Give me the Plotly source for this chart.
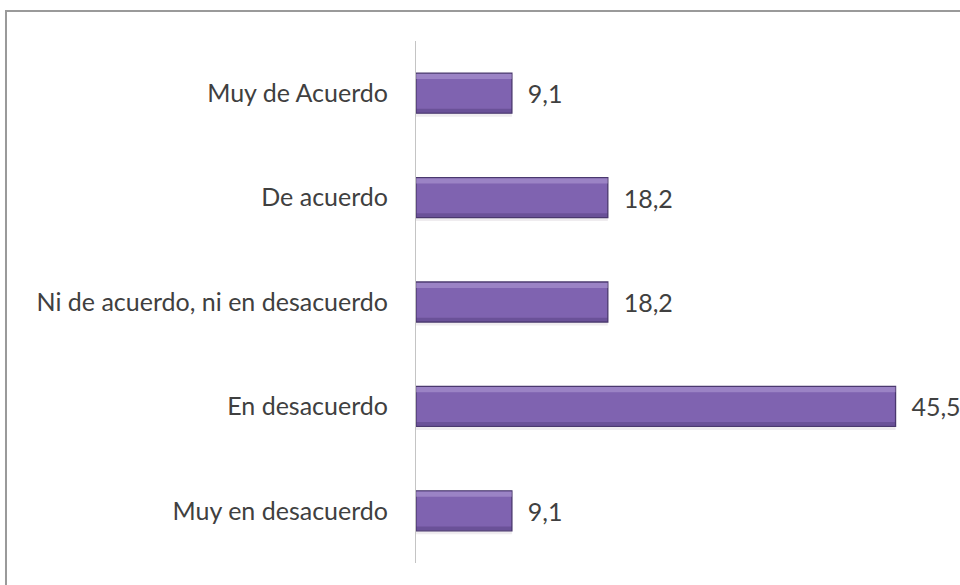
import plotly.graph_objects as go

categories = [
    "Muy de Acuerdo",
    "De acuerdo",
    "Ni de acuerdo, ni en desacuerdo",
    "En desacuerdo",
    "Muy en desacuerdo",
]
values = [9.1, 18.2, 18.2, 45.5, 9.1]

labels = ["\u00a0\u00a0" + f"{v:.1f}".replace(".", ",") for v in values]
font_family = "Lato, Liberation Sans, Arial"

fig = go.Figure()
# faint shadow under each bar
fig.add_trace(
    go.Bar(x=values, y=categories, orientation="h", width=0.4, offset=-0.175,
           marker={"color": "rgba(150,130,150,0.15)", "line": {"width": 0}},
           hoverinfo="skip")
)
# main bar
fig.add_trace(
    go.Bar(
        x=values,
        y=categories,
        orientation="h",
        width=0.383,
        offset=-0.1915,
        marker={"color": "#7f63b0", "line": {"color": "#4a386e", "width": 1.3}},
        text=labels,
        textposition="outside",
        textfont={"family": font_family, "size": 25, "color": "#404040"},
        cliponaxis=False,
        hoverinfo="skip",
    )
)
# soft light top edge and dark bottom edge for a bevelled look
fig.add_trace(
    go.Bar(x=values, y=categories, orientation="h", width=0.05, offset=-0.185,
           marker={"color": "rgba(190,170,225,0.45)", "line": {"width": 0}},
           hoverinfo="skip")
)
fig.add_trace(
    go.Bar(x=values, y=categories, orientation="h", width=0.035, offset=0.15,
           marker={"color": "rgba(70,50,110,0.35)", "line": {"width": 0}},
           hoverinfo="skip")
)

fig.update_layout(
    width=960,
    height=585,
    margin={"l": 416, "r": 17, "t": 41, "b": 22},
    paper_bgcolor="white",
    plot_bgcolor="white",
    barmode="overlay",
    showlegend=False,
    font={"family": font_family, "size": 25, "color": "#404040"},
    xaxis={"range": [0, 50], "visible": False, "fixedrange": True},
    yaxis={
        "autorange": "reversed",
        "showline": True,
        "linecolor": "#c4c4c4",
        "linewidth": 1,
        "ticks": "",
        "ticklabelstandoff": 22,
        "tickfont": {"size": 25, "color": "#404040"},
        "showgrid": False,
        "fixedrange": True,
    },
    shapes=[
        {
            "type": "rect",
            "xref": "paper",
            "yref": "paper",
            "x0": -0.778,
            "x1": 1.2,
            "y0": -0.2,
            "y1": 1.0575,
            "line": {"color": "#9a9a9a", "width": 2},
            "fillcolor": "rgba(0,0,0,0)",
            "layer": "below",
        }
    ],
)

fig.write_html(
    "out.html",
    config={"displayModeBar": False},
    post_script="document.body.style.margin='0';",
)
